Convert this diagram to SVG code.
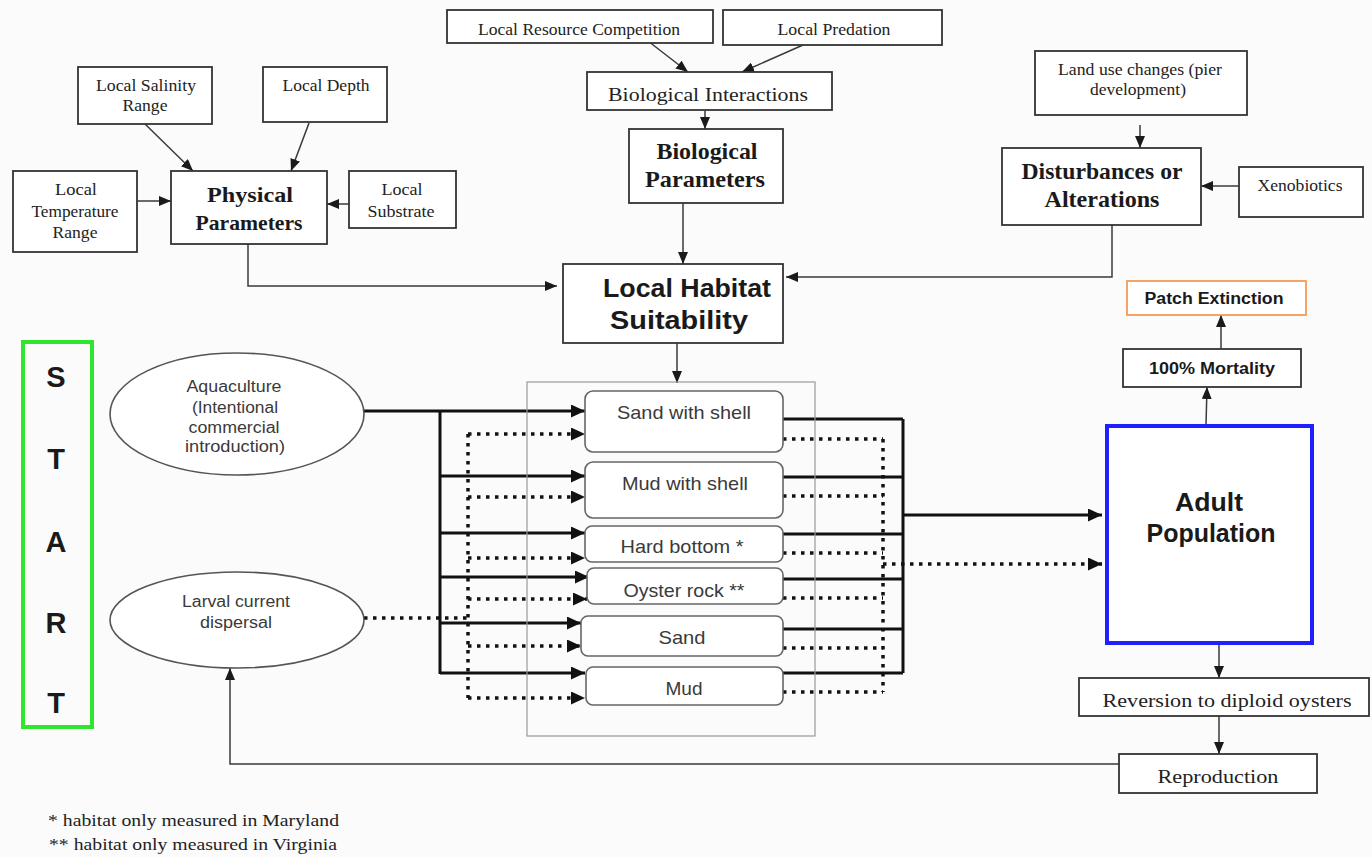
<svg xmlns="http://www.w3.org/2000/svg" width="1372" height="857" viewBox="0 0 1372 857">
  <style>
    .box { fill: #ffffff; stroke: #333333; stroke-width: 1.8; }
    .hab { fill: #ffffff; stroke: #666666; stroke-width: 1.6; }
    .ser { font-family: "Liberation Serif", "Times New Roman", serif; fill: #222222; text-anchor: middle; }
    .serb { font-family: "Liberation Serif", "Times New Roman", serif; font-weight: bold; fill: #1a1a1a; text-anchor: middle; }
    .sans { font-family: "Liberation Sans", Arial, sans-serif; fill: #3a3a3a; text-anchor: middle; }
    .sansb { font-family: "Liberation Sans", Arial, sans-serif; font-weight: bold; fill: #1a1a1a; text-anchor: middle; }
    .thin { fill: none; stroke: #3a3a3a; stroke-width: 1.5; }
    .solid { fill: none; stroke: #111111; stroke-width: 3; }
    .dot { fill: none; stroke: #111111; stroke-width: 3.5; stroke-dasharray: 3.5 5.5; }
  </style>
  <defs>
    <marker id="ah" markerUnits="userSpaceOnUse" markerWidth="12" markerHeight="10" refX="12" refY="5" orient="auto">
      <path d="M0,0 L12,5 L0,10 z" fill="#1a1a1a"/>
    </marker>
    <marker id="ahb" markerUnits="userSpaceOnUse" markerWidth="14" markerHeight="13" refX="14" refY="6.5" orient="auto">
      <path d="M0,0 L14,6.5 L0,13 z" fill="#111111"/>
    </marker>
  </defs>

  <rect x="0" y="0" width="1372" height="857" fill="#fbfbfb"/>

  <!-- connectors -->
  <g id="connectors">
    <!-- physical inputs -->
    <path class="thin" d="M145,124 L193,171" marker-end="url(#ah)"/>
    <path class="thin" d="M309,123 L291,171" marker-end="url(#ah)"/>
    <path class="thin" d="M132,201 H171" marker-end="url(#ah)"/>
    <path class="thin" d="M349,204 H327" marker-end="url(#ah)"/>
    <!-- biological inputs -->
    <path class="thin" d="M648,41 L688,72" marker-end="url(#ah)"/>
    <path class="thin" d="M803,45 L742,72" marker-end="url(#ah)"/>
    <path class="thin" d="M705,111 V129" marker-end="url(#ah)"/>
    <!-- disturbance inputs -->
    <path class="thin" d="M1140,125 V148" marker-end="url(#ah)"/>
    <path class="thin" d="M1239,186 H1201" marker-end="url(#ah)"/>
    <!-- parameters into habitat suitability -->
    <path class="thin" d="M248,244 V286 H557" marker-end="url(#ah)"/>
    <path class="thin" d="M683,203 V264" marker-end="url(#ah)"/>
    <path class="thin" d="M1112,225 V277 H786" marker-end="url(#ah)"/>
    <path class="thin" d="M677,343 V383" marker-end="url(#ah)"/>

    <!-- aquaculture (solid) into habitats -->
    <path class="solid" d="M364,411 H585" marker-end="url(#ahb)"/>
    <path class="solid" d="M440,411 V674"/>
    <path class="solid" d="M440,476 H585" marker-end="url(#ahb)"/>
    <path class="solid" d="M440,533 H585" marker-end="url(#ahb)"/>
    <path class="solid" d="M440,577 H589" marker-end="url(#ahb)"/>
    <path class="solid" d="M440,623 H581" marker-end="url(#ahb)"/>
    <path class="solid" d="M440,673 H585" marker-end="url(#ahb)"/>

    <!-- larval dispersal (dotted) into habitats -->
    <path class="dot" d="M364,618 H468"/>
    <path class="dot" d="M468,434 V698"/>
    <path class="dot" d="M468,434 H585" marker-end="url(#ahb)"/>
    <path class="dot" d="M468,497 H585" marker-end="url(#ahb)"/>
    <path class="dot" d="M468,558 H585" marker-end="url(#ahb)"/>
    <path class="dot" d="M468,599 H587" marker-end="url(#ahb)"/>
    <path class="dot" d="M468,646 H581" marker-end="url(#ahb)"/>
    <path class="dot" d="M468,698 H585" marker-end="url(#ahb)"/>

    <!-- habitats to adult population (solid) -->
    <path class="solid" d="M783,419 H903"/>
    <path class="solid" d="M783,477 H903"/>
    <path class="solid" d="M783,534 H903"/>
    <path class="solid" d="M783,579 H903"/>
    <path class="solid" d="M783,629 H903"/>
    <path class="solid" d="M783,673 H903"/>
    <path class="solid" d="M903,419 V673"/>
    <path class="solid" d="M903,515 H1102" marker-end="url(#ahb)"/>

    <!-- habitats to adult population (dotted) -->
    <path class="dot" d="M783,439 H883"/>
    <path class="dot" d="M783,496 H883"/>
    <path class="dot" d="M783,553 H883"/>
    <path class="dot" d="M783,598 H883"/>
    <path class="dot" d="M783,648 H883"/>
    <path class="dot" d="M783,692 H883"/>
    <path class="dot" d="M883,439 V692"/>
    <path class="dot" d="M883,564 H1102" marker-end="url(#ahb)"/>

    <!-- outcomes -->
    <path class="thin" d="M1206,425 L1207,387" marker-end="url(#ah)"/>
    <path class="thin" d="M1221,349 V315" marker-end="url(#ah)"/>
    <path class="thin" d="M1219,645 V678" marker-end="url(#ah)"/>
    <path class="thin" d="M1219,716 V754" marker-end="url(#ah)"/>
    <path class="thin" d="M1119,764 H230 V668" marker-end="url(#ah)"/>
  </g>

  <!-- physical parameter inputs -->
  <g id="local-salinity">
    <rect class="box" x="78" y="67" width="134" height="57"/>
    <text class="ser" x="146" y="91" font-size="17" textLength="100" lengthAdjust="spacingAndGlyphs">Local Salinity</text>
    <text class="ser" x="145" y="111" font-size="17" textLength="45" lengthAdjust="spacingAndGlyphs">Range</text>
  </g>
  <g id="local-depth">
    <rect class="box" x="263" y="67" width="124" height="55"/>
    <text class="ser" x="326" y="91" font-size="17" textLength="87" lengthAdjust="spacingAndGlyphs">Local Depth</text>
  </g>
  <g id="local-temperature">
    <rect class="box" x="13" y="171" width="124" height="81"/>
    <text class="ser" x="76" y="195" font-size="17" textLength="42" lengthAdjust="spacingAndGlyphs">Local</text>
    <text class="ser" x="75" y="217" font-size="17" textLength="87" lengthAdjust="spacingAndGlyphs">Temperature</text>
    <text class="ser" x="75" y="238" font-size="17" textLength="45" lengthAdjust="spacingAndGlyphs">Range</text>
  </g>
  <g id="physical-parameters">
    <rect class="box" x="171" y="171" width="156" height="73"/>
    <text class="serb" x="250" y="202" font-size="22" textLength="86" lengthAdjust="spacingAndGlyphs">Physical</text>
    <text class="serb" x="249" y="230" font-size="22" textLength="107" lengthAdjust="spacingAndGlyphs">Parameters</text>
  </g>
  <g id="local-substrate">
    <rect class="box" x="349" y="171" width="107" height="57"/>
    <text class="ser" x="402" y="195" font-size="17" textLength="41" lengthAdjust="spacingAndGlyphs">Local</text>
    <text class="ser" x="401" y="217" font-size="17" textLength="67" lengthAdjust="spacingAndGlyphs">Substrate</text>
  </g>

  <!-- biological parameter inputs -->
  <g id="local-resource-competition">
    <rect class="box" x="447" y="10" width="266" height="33"/>
    <text class="ser" x="579" y="35" font-size="17" textLength="202" lengthAdjust="spacingAndGlyphs">Local Resource Competition</text>
  </g>
  <g id="local-predation">
    <rect class="box" x="723" y="10" width="219" height="35"/>
    <text class="ser" x="834" y="35" font-size="17" textLength="113" lengthAdjust="spacingAndGlyphs">Local Predation</text>
  </g>
  <g id="biological-interactions">
    <rect class="box" x="587" y="72" width="245" height="38"/>
    <text class="ser" x="708" y="101" font-size="18" textLength="200" lengthAdjust="spacingAndGlyphs">Biological Interactions</text>
  </g>
  <g id="biological-parameters">
    <rect class="box" x="629" y="129" width="154" height="74"/>
    <text class="serb" x="707" y="159" font-size="24" textLength="101" lengthAdjust="spacingAndGlyphs">Biological</text>
    <text class="serb" x="705" y="187" font-size="24" textLength="120" lengthAdjust="spacingAndGlyphs">Parameters</text>
  </g>

  <!-- disturbance inputs -->
  <g id="land-use-changes">
    <rect class="box" x="1035" y="51" width="212" height="64"/>
    <text class="ser" x="1140" y="75" font-size="17" textLength="164" lengthAdjust="spacingAndGlyphs">Land use changes (pier</text>
    <text class="ser" x="1138" y="95" font-size="17" textLength="96" lengthAdjust="spacingAndGlyphs">development)</text>
  </g>
  <g id="disturbances">
    <rect class="box" x="1002" y="148" width="199" height="77"/>
    <text class="serb" x="1102" y="179" font-size="24" textLength="161" lengthAdjust="spacingAndGlyphs">Disturbances or</text>
    <text class="serb" x="1102" y="207" font-size="24" textLength="115" lengthAdjust="spacingAndGlyphs">Alterations</text>
  </g>
  <g id="xenobiotics">
    <rect class="box" x="1239" y="167" width="124" height="50"/>
    <text class="ser" x="1300" y="191" font-size="17" textLength="85" lengthAdjust="spacingAndGlyphs">Xenobiotics</text>
  </g>

  <!-- habitat suitability -->
  <g id="local-habitat-suitability">
    <rect class="box" x="563" y="264" width="220" height="79"/>
    <text class="sansb" x="687" y="297" font-size="26" textLength="168" lengthAdjust="spacingAndGlyphs">Local Habitat</text>
    <text class="sansb" x="679" y="329" font-size="26" textLength="138" lengthAdjust="spacingAndGlyphs">Suitability</text>
  </g>

  <!-- start marker -->
  <g id="start">
    <rect x="23" y="342" width="69" height="385" fill="none" stroke="#2ee62e" stroke-width="4"/>
    <text class="sansb" x="56" y="387" font-size="29" fill="#111">S</text>
    <text class="sansb" x="56" y="469" font-size="29" fill="#111">T</text>
    <text class="sansb" x="56" y="552" font-size="29" fill="#111">A</text>
    <text class="sansb" x="56" y="633" font-size="29" fill="#111">R</text>
    <text class="sansb" x="56" y="713" font-size="29" fill="#111">T</text>
  </g>

  <!-- sources -->
  <g id="aquaculture">
    <ellipse cx="237" cy="414" rx="127" ry="61" fill="#ffffff" stroke="#555555" stroke-width="1.6"/>
    <text class="sans" x="234" y="392" font-size="16" textLength="95" lengthAdjust="spacingAndGlyphs">Aquaculture</text>
    <text class="sans" x="235" y="413" font-size="16" textLength="86" lengthAdjust="spacingAndGlyphs">(Intentional</text>
    <text class="sans" x="234" y="433" font-size="16" textLength="91" lengthAdjust="spacingAndGlyphs">commercial</text>
    <text class="sans" x="235" y="452" font-size="16" textLength="100" lengthAdjust="spacingAndGlyphs">introduction)</text>
  </g>
  <g id="larval-dispersal">
    <ellipse cx="237" cy="620" rx="127" ry="48" fill="#ffffff" stroke="#555555" stroke-width="1.6"/>
    <text class="sans" x="236" y="607" font-size="16" textLength="108" lengthAdjust="spacingAndGlyphs">Larval current</text>
    <text class="sans" x="236" y="628" font-size="16" textLength="72" lengthAdjust="spacingAndGlyphs">dispersal</text>
  </g>

  <!-- habitat types -->
  <g id="habitat-types">
    <rect x="527" y="382" width="288" height="354" fill="none" stroke="#9a9a9a" stroke-width="1.2"/>
  </g>
  <g id="sand-with-shell">
    <rect class="hab" x="585" y="391" width="198" height="61" rx="8"/>
    <text class="sans" x="684" y="419" font-size="19" textLength="134" lengthAdjust="spacingAndGlyphs">Sand with shell</text>
  </g>
  <g id="mud-with-shell">
    <rect class="hab" x="585" y="462" width="198" height="56" rx="8"/>
    <text class="sans" x="685" y="490" font-size="19" textLength="126" lengthAdjust="spacingAndGlyphs">Mud with shell</text>
  </g>
  <g id="hard-bottom">
    <rect class="hab" x="585" y="526" width="198" height="36" rx="7"/>
    <text class="sans" x="682" y="553" font-size="19" textLength="123" lengthAdjust="spacingAndGlyphs">Hard bottom *</text>
  </g>
  <g id="oyster-rock">
    <rect class="hab" x="587" y="568" width="196" height="36" rx="7"/>
    <text class="sans" x="684" y="597" font-size="19" textLength="121" lengthAdjust="spacingAndGlyphs">Oyster rock **</text>
  </g>
  <g id="sand">
    <rect class="hab" x="581" y="616" width="202" height="40" rx="7"/>
    <text class="sans" x="682" y="644" font-size="19" textLength="47" lengthAdjust="spacingAndGlyphs">Sand</text>
  </g>
  <g id="mud">
    <rect class="hab" x="586" y="667" width="197" height="38" rx="7"/>
    <text class="sans" x="684" y="695" font-size="19" textLength="37" lengthAdjust="spacingAndGlyphs">Mud</text>
  </g>

  <!-- adult population and outcomes -->
  <g id="adult-population">
    <rect x="1107" y="426" width="205" height="217" fill="#ffffff" stroke="#1f1fff" stroke-width="4"/>
    <text class="sansb" x="1209" y="511" font-size="25" textLength="68" lengthAdjust="spacingAndGlyphs">Adult</text>
    <text class="sansb" x="1211" y="542" font-size="25" textLength="129" lengthAdjust="spacingAndGlyphs">Population</text>
  </g>
  <g id="mortality">
    <rect class="box" x="1123" y="349" width="178" height="38"/>
    <text class="sansb" x="1212" y="374" font-size="16" textLength="126" lengthAdjust="spacingAndGlyphs">100% Mortality</text>
  </g>
  <g id="patch-extinction">
    <rect x="1127" y="281" width="179" height="34" fill="#ffffff" stroke="#f59a55" stroke-width="1.8"/>
    <text class="sansb" x="1214" y="304" font-size="16" textLength="139" lengthAdjust="spacingAndGlyphs">Patch Extinction</text>
  </g>
  <g id="reversion">
    <rect class="box" x="1079" y="678" width="290" height="38"/>
    <text class="ser" x="1227" y="707" font-size="19" textLength="249" lengthAdjust="spacingAndGlyphs">Reversion to diploid oysters</text>
  </g>
  <g id="reproduction">
    <rect class="box" x="1119" y="754" width="198" height="39"/>
    <text class="ser" x="1218" y="783" font-size="19" textLength="121" lengthAdjust="spacingAndGlyphs">Reproduction</text>
  </g>

  <!-- footnotes -->
  <g id="footnotes">
    <text class="ser" x="48" y="826" font-size="17" text-anchor="start" style="text-anchor:start" textLength="291" lengthAdjust="spacingAndGlyphs">* habitat only measured in Maryland</text>
    <text class="ser" x="49" y="850" font-size="17" style="text-anchor:start" textLength="288" lengthAdjust="spacingAndGlyphs">** habitat only measured in Virginia</text>
  </g>
</svg>
